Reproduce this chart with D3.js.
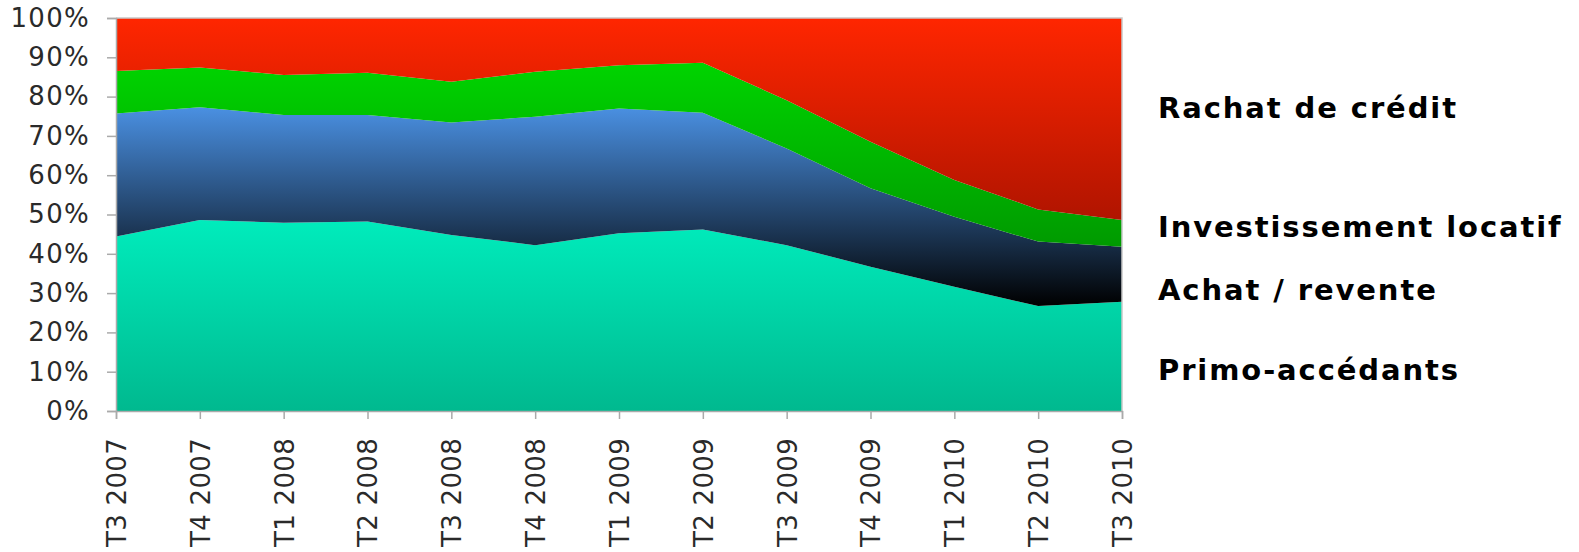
<!DOCTYPE html>
<html><head><meta charset="utf-8">
<script src="https://cdn.jsdelivr.net/npm/d3@7"></script>
<style>html,body{margin:0;padding:0;background:#fff;}svg{display:block;}</style>
</head><body>
<svg id="chart" width="1579" height="552"></svg>
<script>
const categories = ["T3 2007","T4 2007","T1 2008","T2 2008","T3 2008","T4 2008","T1 2009","T2 2009","T3 2009","T4 2009","T1 2010","T2 2010","T3 2010"];
const primoAccedants = [44.4, 48.6, 47.9, 48.2, 44.8, 42.2, 45.2, 46.2, 42.2, 36.7, 31.6, 26.7, 27.8];
const achatRevente = [31.3, 28.7, 27.4, 27.1, 28.6, 32.7, 31.8, 29.7, 24.6, 20.0, 17.8, 16.4, 14.0];
const investissementLocatif = [10.8, 10.1, 10.2, 10.8, 10.4, 11.4, 11.0, 12.7, 12.3, 11.8, 9.4, 8.2, 6.8];
const rachatCredit = [13.5, 12.6, 14.5, 13.9, 16.2, 13.7, 12.0, 11.4, 20.9, 31.5, 41.2, 48.7, 51.4];
const seriesNames = ["Primo-accédants","Achat / revente","Investissement locatif","Rachat de crédit"];
const yTicks = [0,10,20,30,40,50,60,70,80,90,100];

const svg = d3.select("#chart");
const L = 116, R = 1122, T = 18, B = 411;
const x = d3.scalePoint().domain(categories).range([L, R]);
const y = d3.scaleLinear().domain([0, 100]).range([B, T]);

const rows = categories.map((c, i) => ({
  cat: c,
  [seriesNames[0]]: primoAccedants[i],
  [seriesNames[1]]: achatRevente[i],
  [seriesNames[2]]: investissementLocatif[i],
  [seriesNames[3]]: rachatCredit[i]
}));
const stacked = d3.stack().keys(seriesNames).offset(d3.stackOffsetExpand)(rows);

const grads = [
  ["#00ecbc", "#00b98f"],
  ["#4a90e2", "#000000"],
  ["#00d400", "#009a00"],
  ["#ff2600", "#b01400"]
];
const defs = svg.append("defs");
grads.forEach((g, i) => {
  const lg = defs.append("linearGradient").attr("id", "g" + i)
    .attr("x1", 0).attr("y1", 0).attr("x2", 0).attr("y2", 1);
  lg.append("stop").attr("offset", "0%").attr("stop-color", g[0]);
  lg.append("stop").attr("offset", "100%").attr("stop-color", g[1]);
});

const area = d3.area()
  .x(d => x(d.data.cat))
  .y0(d => y(d[0] * 100))
  .y1(d => y(d[1] * 100));

svg.append("g").selectAll("path").data(stacked).join("path")
  .attr("d", area)
  .attr("fill", (d, i) => `url(#g${i})`);

// frame
svg.append("path")
  .attr("d", `M${L},${T}H${R}V${B}`)
  .attr("fill", "none").attr("stroke", "#c8c8c8").attr("stroke-width", 1.5);

const yAxis = d3.axisLeft(y).tickValues(yTicks).tickFormat(d => d + "%").tickSize(9).tickPadding(17);
const gy = svg.append("g").attr("transform", `translate(${L},0)`).call(yAxis);
gy.select(".domain").attr("stroke", "#aaa").attr("stroke-width", 1.5);
gy.selectAll(".tick line").attr("stroke", "#aaa").attr("stroke-width", 1.5);
gy.selectAll("text").attr("font-family", "DejaVu Sans, Verdana, sans-serif").attr("font-size", 26)
  .attr("letter-spacing", 1.3).attr("fill", "#2a2a2a");

const xAxis = d3.axisBottom(x).tickSize(8).tickPadding(0);
const gx = svg.append("g").attr("transform", `translate(0,${B})`).call(xAxis);
gx.select(".domain").attr("stroke", "#aaa").attr("stroke-width", 1.5);
gx.selectAll(".tick line").attr("stroke", "#aaa").attr("stroke-width", 1.5);
gx.selectAll("text")
  .attr("font-family", "DejaVu Sans, Verdana, sans-serif").attr("font-size", 26).attr("fill", "#2a2a2a")
  .attr("letter-spacing", 0.3)
  .attr("text-anchor", "end")
  .attr("transform", "translate(0,27) rotate(-90)")
  .attr("x", 0).attr("y", 0).attr("dy", "0.36em");

const legendY = [380, 300, 237, 118];
svg.append("g").selectAll("text").data(seriesNames).join("text")
  .attr("x", 1158).attr("y", (d, i) => legendY[i])
  .attr("font-family", "DejaVu Sans, Verdana, sans-serif").attr("font-weight", "bold")
  .attr("font-size", 29).attr("letter-spacing", 1.9).attr("fill", "#000")
  .text(d => d);
</script>
</body></html>
